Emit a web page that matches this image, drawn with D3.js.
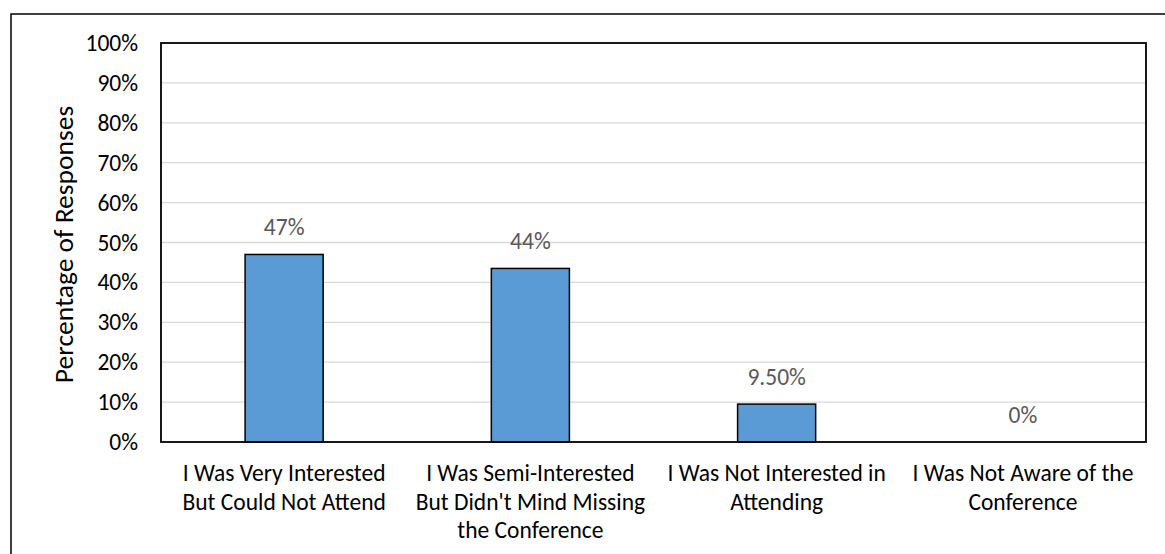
<!DOCTYPE html>
<html>
<head>
<meta charset="utf-8">
<script src="https://cdn.jsdelivr.net/npm/d3@7"></script>
<style>
  html, body { margin: 0; padding: 0; background: #fff; }
  svg { display: block; font-family: Carlito, Lato, sans-serif; }
</style>
</head>
<body>
<div id="chart"></div>
<script>
// chart data
const categories = [
	"I Was Very Interested\nBut Could Not Attend",
	"I Was Semi-Interested\nBut Didn't Mind Missing\nthe Conference",
	"I Was Not Interested in\nAttending",
	"I Was Not Aware of the\nConference"
];
const values = [0.47, 0.435, 0.095, 0];
const valueLabels = ["47%", "44%", "9.50%", "0%"];
const yTicks = [0, 0.1, 0.2, 0.3, 0.4, 0.5, 0.6, 0.7, 0.8, 0.9, 1];
const yTitle = "Percentage of Responses";

window.onload = function () {
	const width = 1165, height = 554;
	const margin = { top: 43, right: 19, bottom: 112, left: 161 };
	const innerW = width - margin.left - margin.right;
	const innerH = height - margin.top - margin.bottom;
	const fs = 23.5;

	var svg = d3.select("#chart").append("svg")
		.attr("width", width)
		.attr("height", height);

	// outer chart frame (only top and left visible in the crop)
	svg.append("path")
		.attr("d", "M11,555 L11,14 L1166,14")
		.attr("fill", "none")
		.attr("stroke", "#000")
		.attr("stroke-width", 1.5);

	var g = svg.append("g")
		.attr("transform", "translate(" + margin.left + "," + margin.top + ")");

	var x = d3.scaleBand()
		.domain(categories)
		.range([0, innerW])
		.paddingInner(0.683)
		.paddingOuter(0.3415);

	var y = d3.scaleLinear()
		.domain([0, 1])
		.range([innerH, 0]);

	// gridlines
	g.append("g")
		.selectAll("line")
		.data(yTicks.filter(d => d > 0 && d < 1))
		.enter().append("line")
		.attr("x1", 0)
		.attr("x2", innerW)
		.attr("y1", d => y(d))
		.attr("y2", d => y(d))
		.attr("stroke", "#d9d9d9")
		.attr("stroke-width", 1.3);

	// y axis labels
	var yAxis = g.append("g")
		.call(d3.axisLeft(y).tickValues(yTicks).tickFormat(d3.format(".0%")).tickSize(0).tickPadding(23));
	yAxis.select(".domain").remove();
	yAxis.selectAll("text")
		.attr("font-family", "Carlito, Lato, sans-serif")
		.attr("font-size", fs)
		.attr("dy", "0.32em")
		.attr("fill", "#000");

	// bars
	g.selectAll(".bar")
		.data(values)
		.enter().append("rect")
		.attr("class", "bar")
		.attr("x", (d, i) => x(categories[i]))
		.attr("y", d => y(d))
		.attr("width", x.bandwidth())
		.attr("height", d => innerH - y(d))
		.attr("fill", "#5b9bd5")
		.attr("stroke", d => d > 0 ? "#000" : "none")
		.attr("stroke-width", 1.5);

	// value labels
	g.selectAll(".val")
		.data(values)
		.enter().append("text")
		.attr("class", "val")
		.attr("x", (d, i) => x(categories[i]) + x.bandwidth() / 2)
		.attr("y", d => y(d) - 19)
		.attr("text-anchor", "middle")
		.attr("font-size", fs)
		.attr("fill", "#595959")
		.text((d, i) => valueLabels[i]);

	// plot border
	g.append("rect")
		.attr("x", 0)
		.attr("y", 0)
		.attr("width", innerW)
		.attr("height", innerH)
		.attr("fill", "none")
		.attr("stroke", "#000")
		.attr("stroke-width", 1.8);

	// category labels
	var cat = g.selectAll(".cat")
		.data(categories)
		.enter().append("text")
		.attr("class", "cat")
		.attr("text-anchor", "middle")
		.attr("font-size", fs)
		.attr("fill", "#000")
		.attr("transform", d => "translate(" + (x(d) + x.bandwidth() / 2) + "," + (innerH + 39) + ")");
	cat.selectAll("tspan")
		.data(d => d.split("\n"))
		.enter().append("tspan")
		.attr("x", 0)
		.attr("y", (d, i) => i * 28.5)
		.text(d => d);

	// y axis title
	svg.append("text")
		.attr("transform", "translate(73," + (margin.top + innerH / 2 + 2) + ") rotate(-90)")
		.attr("text-anchor", "middle")
		.attr("font-size", 27.5)
		.attr("fill", "#000")
		.text(yTitle);
}
</script>
</body>
</html>
